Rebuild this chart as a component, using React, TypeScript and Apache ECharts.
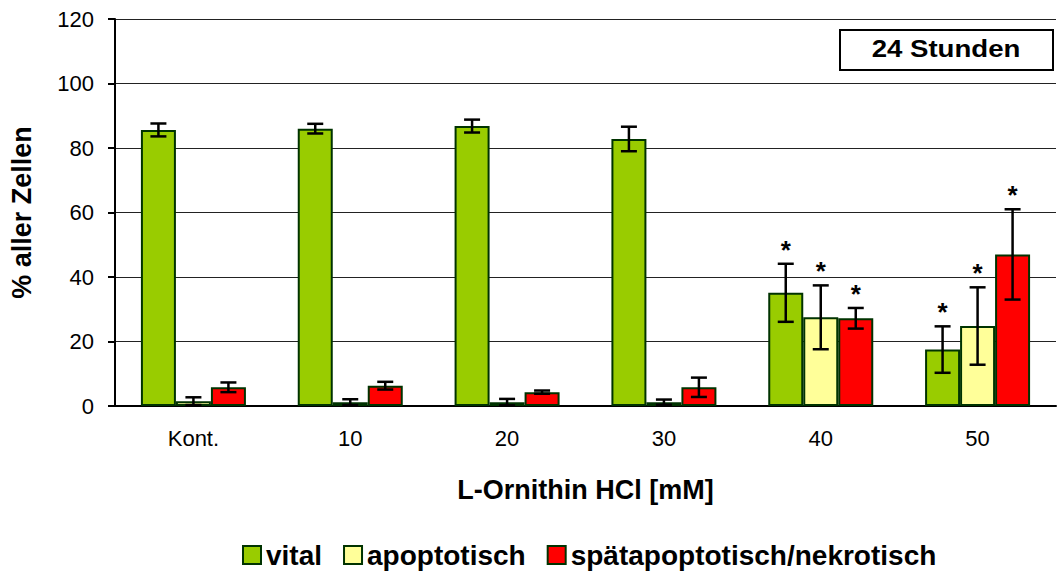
import React, { useEffect, useRef } from "react";
import * as echarts from "echarts";

const categories = ["Kont.", "10", "20", "30", "40", "50"];
const seriesNames = ["vital", "apoptotisch", "spätapoptotisch/nekrotisch"];
const colors = ["#99CC00", "#FFFF99", "#FF0000"];
const vital = [85.6, 86.0, 86.8, 82.8, 35.1, 17.5];
const vitalErr = [2.0, 1.5, 2.0, 3.8, 9.0, 7.2];
const apopt = [1.5, 1.2, 1.2, 1.2, 27.5, 24.8];
const apoptErr = [1.2, 0.9, 1.0, 0.8, 9.9, 12.0];
const nekro = [5.8, 6.3, 4.3, 5.8, 27.2, 47.0];
const nekroErr = [1.5, 1.2, 0.5, 3.0, 3.2, 14.0];
const signif = [
  [false, false, false, false, true, true],
  [false, false, false, false, true, true],
  [false, false, false, false, true, true],
];
const yTicks = { min: 0, max: 120, interval: 20 };
const FONT = "Liberation Sans, Arial, sans-serif";
const BAR_W = 35;

export default function App() {
  const ref = useRef<HTMLDivElement>(null);
  useEffect(() => {
    if (!ref.current) return;
    const chart = echarts.init(ref.current, null, { renderer: "svg" });
    const values = [vital, apopt, nekro];
    const errs = [vitalErr, apoptErr, nekroErr];
    const barSeries = seriesNames.map((name, i) => ({
      name,
      type: "bar",
      data: values[i],
      barWidth: BAR_W,
      barGap: "0%",
      itemStyle: { color: colors[i], borderColor: "#003300", borderWidth: 2 },
      z: 2,
    }));
    const errSeries = seriesNames.map((name, i) => ({
      type: "custom",
      name: name + "_err",
      z: 5,
      data: categories.map((_, k) => [k, values[i][k], errs[i][k], signif[i][k] ? 1 : 0]),
      renderItem: (params: any, api: any) => {
        const k = api.value(0);
        const v = api.value(1);
        const e = api.value(2);
        const sig = api.value(3);
        const off = (i - 1) * BAR_W;
        const top = api.coord([k, v + e]);
        const bot = api.coord([k, Math.max(v - e, 0)]);
        const x = top[0] + off;
        const cap = 8;
        const style = { stroke: "#000", lineWidth: 2.5 };
        const children: any[] = [
          { type: "line", shape: { x1: x, y1: top[1], x2: x, y2: bot[1] }, style },
          { type: "line", shape: { x1: x - cap, y1: top[1], x2: x + cap, y2: top[1] }, style },
          { type: "line", shape: { x1: x - cap, y1: bot[1], x2: x + cap, y2: bot[1] }, style },
        ];
        if (sig) {
          children.push({
            type: "text",
            x: x,
            y: top[1] - 1,
            style: {
              text: "*",
              fill: "#000",
              font: "bold 26px " + FONT,
              align: "center",
              verticalAlign: "bottom",
            },
          });
        }
        return { type: "group", children };
      },
      encode: { x: 0, y: 1 },
      silent: true,
    }));

    chart.setOption({
      animation: false,
      backgroundColor: "#fff",
      grid: {
        left: 115,
        right: 6,
        top: 19,
        bottom: 170,
        containLabel: false,
        outerBoundsMode: "none",
      },
      legend: {
        data: seriesNames.map((n) => ({ name: n, icon: "rect" })),
        bottom: 2,
        left: 237,
        itemWidth: 18,
        itemHeight: 18,
        itemGap: 21,
        textStyle: { fontFamily: FONT, fontWeight: "bold", fontSize: 28, color: "#000" },
      },
      xAxis: {
        type: "category",
        data: categories,
        name: "L-Ornithin HCl [mM]",
        nameLocation: "middle",
        nameGap: 70,
        nameTextStyle: { fontFamily: FONT, fontWeight: "bold", fontSize: 27, color: "#000" },
        axisLine: { lineStyle: { color: "#000", width: 2 } },
        axisTick: { length: 7, lineStyle: { color: "#000", width: 2 } },
        axisLabel: { fontFamily: FONT, fontSize: 22, color: "#000", margin: 21 },
      },
      yAxis: {
        type: "value",
        min: yTicks.min,
        max: yTicks.max,
        interval: yTicks.interval,
        name: "% aller Zellen",
        nameLocation: "middle",
        nameGap: 80,
        nameTextStyle: { fontFamily: FONT, fontWeight: "bold", fontSize: 27, color: "#000" },
        axisLine: { show: true, lineStyle: { color: "#000", width: 2 } },
        axisTick: { show: true, length: 7, lineStyle: { color: "#000", width: 2 } },
        axisLabel: { fontFamily: FONT, fontSize: 22, color: "#000", margin: 21 },
        splitLine: { show: true, lineStyle: { color: "#222", width: 1 } },
      },
      graphic: [
        {
          type: "rect",
          z: 10,
          shape: { x: 840, y: 30, width: 213, height: 40 },
          style: { fill: "#fff", stroke: "#000", lineWidth: 2 },
        },
        {
          type: "text",
          z: 11,
          x: 946,
          y: 49,
          scaleX: 1.2,
          originX: 0,
          originY: 0,
          style: {
            text: "24 Stunden",
            font: "bold 23px " + FONT,
            fill: "#000",
            align: "center",
            verticalAlign: "middle",
          },
        },
      ],
      series: [...barSeries, ...errSeries],
    });
    return () => chart.dispose();
  }, []);
  return (
    <div
      ref={ref}
      style={{ position: "fixed", left: 0, top: 0, width: 1062, height: 576 }}
    />
  );
}
